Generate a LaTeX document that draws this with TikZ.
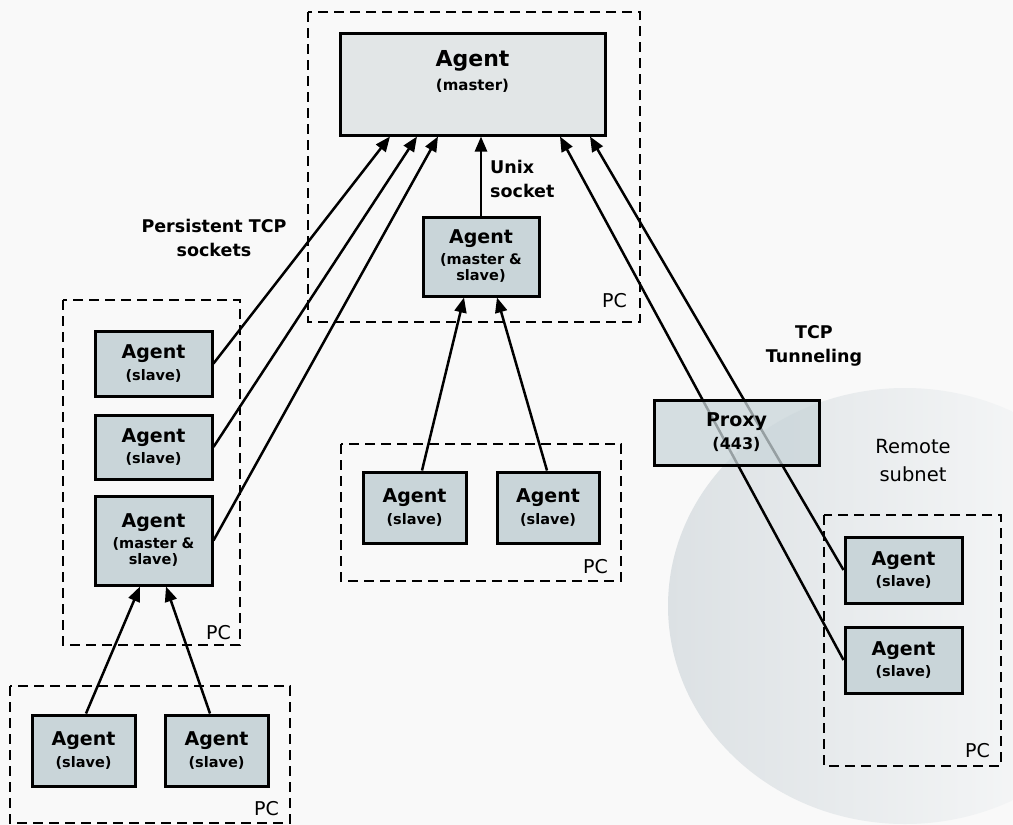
\documentclass[tikz,border=0pt]{standalone}
\usepackage{fontspec}
\setmainfont{DejaVu Sans}
\usetikzlibrary{arrows.meta}
\definecolor{bg}{HTML}{F9F9F9}
\definecolor{boxfill}{HTML}{C9D5D9}
\definecolor{masterfill}{HTML}{E2E6E7}
\definecolor{subnetL}{HTML}{DCE1E4}
\definecolor{subnetR}{HTML}{FCFCFC}
\tikzset{
  agentbox/.style={draw=black, line width=3pt, fill=boxfill, align=center, inner sep=0pt, font=\bfseries},
  pcbox/.style={draw=black, line width=2.6pt, dash pattern=on 10pt off 6pt},
  link/.style={draw=black, line width=2.5pt, -{Triangle[length=15pt,width=12pt]}},
  pclabel/.style={font=\fontsize{19}{22}\selectfont, anchor=base east, inner sep=0pt},
  lbl/.style={font=\fontsize{17.5}{24}\selectfont\bfseries, align=center, inner sep=0pt},
}
\newcommand{\agentA}{\fontsize{19}{21}\selectfont Agent}
\newcommand{\agentS}[1]{\fontsize{14.5}{21}\selectfont #1}
\begin{document}
\begin{tikzpicture}[x=1pt,y=-1pt]
\useasboundingbox[fill=bg] (0,0) rectangle (1013,825);
% remote subnet region
\begin{scope}
\clip (0,0) rectangle (1013,825);
\shade[left color=subnetL, right color=subnetR] (905,606) ellipse [x radius=237, y radius=218];
\end{scope}
% PC containers
\draw[pcbox] (308,12) rectangle (640,322);
\draw[pcbox] (63,300) rectangle (240,645);
\draw[pcbox] (341,444) rectangle (621,581);
\draw[pcbox] (10,686) rectangle (290,823);
\draw[pcbox] (824,515) rectangle (1001,766);
\node[pclabel] (pc1) at (627,307) {PC};
\node[pclabel] (pc2) at (231,639) {PC};
\node[pclabel] (pc3) at (608,573) {PC};
\node[pclabel] (pc4) at (279,815) {PC};
\node[pclabel] (pc5) at (990,757) {PC};
% nodes
\node[agentbox, fill=masterfill, minimum width=265pt, minimum height=102pt] (master) at (472.5,84)
  {\fontsize{22}{25}\selectfont Agent\\[6pt]\fontsize{15}{25}\selectfont (master)\\[15pt]};
\node[agentbox, minimum width=116pt, minimum height=79pt] (mid) at (481,256.5)
  {\agentA\\[4pt]\agentS{(master \&}\\[3pt]\agentS{slave)}};
\node[agentbox, minimum width=117pt, minimum height=65pt] (l1) at (153.5,363.5) {\agentA\\[5pt]\agentS{(slave)}};
\node[agentbox, minimum width=117pt, minimum height=64pt] (l2) at (153.5,447) {\agentA\\[5pt]\agentS{(slave)}};
\node[agentbox, minimum width=117pt, minimum height=89pt] (l3) at (153.5,540.5)
  {\agentA\\[4pt]\agentS{(master \&}\\[3pt]\agentS{slave)}};
\node[agentbox, minimum width=103pt, minimum height=71pt] (m1) at (414.5,507.5) {\agentA\\[5pt]\agentS{(slave)}};
\node[agentbox, minimum width=102pt, minimum height=71pt] (m2) at (548,507.5) {\agentA\\[5pt]\agentS{(slave)}};
\node[agentbox, minimum width=103pt, minimum height=71pt] (b1) at (83.5,750.5) {\agentA\\[5pt]\agentS{(slave)}};
\node[agentbox, minimum width=103pt, minimum height=71pt] (b2) at (216.5,750.5) {\agentA\\[5pt]\agentS{(slave)}};
\node[agentbox, minimum width=117pt, minimum height=66pt] (r1) at (903.5,570) {\agentA\\[5pt]\agentS{(slave)}};
\node[agentbox, minimum width=117pt, minimum height=66pt] (r2) at (903.5,660) {\agentA\\[5pt]\agentS{(slave)}};
% connectors
\draw[link] (l1.east) -- (390,0 |- master.south);
\draw[link] (l2.east) -- (417,0 |- master.south);
\draw[link] (l3.east) -- (438,0 |- master.south);
\draw[link] (mid.north) -- (mid.north |- master.south);
\draw[link] (r2.west) -- (560,0 |- master.south);
\draw[link] (r1.west) -- (590,0 |- master.south);
\draw[link] (422,0 |- m1.north) -- (464,0 |- mid.south);
\draw[link] (547,0 |- m2.north) -- (497,0 |- mid.south);
\draw[link] (86,0 |- b1.north) -- (140,0 |- l3.south);
\draw[link] (210,0 |- b2.north) -- (166,0 |- l3.south);
% proxy (semi-transparent over the tunnel lines)
\node[agentbox, fill opacity=0.75, text opacity=1, minimum width=165pt, minimum height=65pt] (proxy) at (736.5,432.5)
  {\fontsize{19}{21}\selectfont Proxy\\[6pt]\fontsize{16}{25}\selectfont (443)};
% labels
\node[lbl] (persist) at (214,238) {Persistent TCP\\sockets};
\node[lbl, align=left, anchor=north west] (unix) at (490,160) {Unix\\socket};
\node[lbl] (tunnel) at (814,346) {TCP\\Tunneling};
\node[font=\fontsize{19.5}{28}\selectfont, align=center, inner sep=0pt] (remote) at (913,461) {Remote\\subnet};
\end{tikzpicture}
\end{document}
